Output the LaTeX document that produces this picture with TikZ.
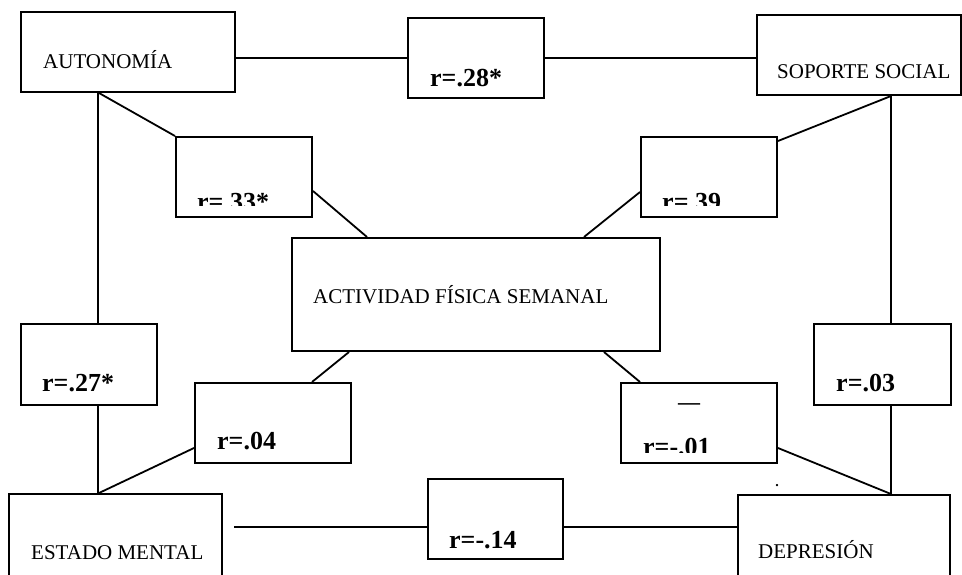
\documentclass[tikz,border=0pt]{standalone}
\usepackage{fontspec}
\setmainfont{Liberation Serif}
\begin{document}
\begin{tikzpicture}[x=1pt,y=-1pt,
  box/.style={draw,line width=2pt,rectangle,inner sep=0pt},
  conn/.style={line width=1.8pt},
  lbl/.style={anchor=base west,inner sep=0pt,font=\fontsize{21}{25}\selectfont},
  rlbl/.style={anchor=base west,inner sep=0pt,font=\fontsize{26}{30}\selectfont\bfseries}]
\useasboundingbox (0,0) rectangle (962,574);
\clip (0,0) rectangle (962,574);
% boxes
\node[box,minimum width=214,minimum height=80] (aut) at (128,52) {};
\node[box,minimum width=136,minimum height=80] (r28) at (476,58) {};
\node[box,minimum width=204,minimum height=80] (sop) at (859,55) {};
\node[box,minimum width=136,minimum height=80] (r33) at (244,177) {};
\node[box,minimum width=136,minimum height=80] (r39) at (709,177) {};
\node[box,minimum width=368,minimum height=113] (act) at (476,294.5) {};
\node[box,minimum width=136,minimum height=81] (r27) at (89,364.5) {};
\node[box,minimum width=137,minimum height=81] (r03) at (882.5,364.5) {};
\node[box,minimum width=156,minimum height=80] (r04) at (273,423) {};
\node[box,minimum width=156,minimum height=80] (r01) at (699,423) {};
\node[box,minimum width=213,minimum height=106] (est) at (115.5,547) {};
\node[box,minimum width=135,minimum height=80] (r14) at (495.5,519) {};
\node[box,minimum width=212,minimum height=106] (dep) at (844,548) {};
% texts
\node[lbl] (tAut) at (43,68) {AUTONOMÍA};
\node[lbl] (tSop) at (777,78) {SOPORTE SOCIAL};
\node[lbl] (tAct) at (313,303) {ACTIVIDAD FÍSICA SEMANAL};
\node[lbl] (tEst) at (31,559) {ESTADO MENTAL};
\node[lbl] (tDep) at (758,558) {DEPRESIÓN};
\node[rlbl] (t28) at (430,86) {r=.28*};
\node[rlbl] (t27) at (42,391) {r=.27*};
\node[rlbl] (t03) at (836,391) {r=.03};
\node[rlbl] (t04) at (217,449) {r=.04};
\node[rlbl] (t14) at (449,548) {r=-.14};
\begin{scope}
  \clip (176,137) rectangle (312,205);
  \node[rlbl] (t33) at (197,210) {r=.33*};
\end{scope}
\begin{scope}
  \clip (641,137) rectangle (777,205);
  \node[rlbl] (t39) at (662,210) {r=.39};
\end{scope}
\begin{scope}
  \clip (621,383) rectangle (777,452);
  \node[rlbl] (t01) at (643,455) {r=-.01};
\end{scope}
\node[anchor=base,inner sep=0pt,font=\fontsize{22}{26}\selectfont\bfseries] (tDash) at (689,409) {—};
\node[anchor=base,inner sep=0pt,font=\fontsize{14}{16}\selectfont\bfseries] (tDot) at (777,486) {.};
% connectors
\coordinate (estR) at (234,527);
\draw[conn] (r28.west) -- (r28.west -| aut.east);
\draw[conn] (r28.east) -- (r28.east -| sop.west);
\draw[conn] ([xshift=78]aut.south west) -- ([xshift=78]aut.south west |- r27.north);
\draw[conn] ([xshift=78]r27.south west) -- ([xshift=78]r27.south west |- est.north);
\draw[conn] ([xshift=79]aut.south west) -- (r33.north west);
\draw[conn] ([yshift=-14]r33.east) -- ([xshift=76]act.north west);
\draw[conn] ([yshift=-15]r39.west) -- ([xshift=-77]act.north east);
\draw[conn] ([yshift=-5]r39.north east) -- ([xshift=135]sop.south west);
\draw[conn] ([xshift=135]sop.south west) -- ([xshift=135]sop.south west |- r03.north);
\draw[conn] ([xshift=78]r03.south west) -- ([xshift=78]r03.south west |- dep.north);
\draw[conn] ([xshift=58]act.south west) -- ([xshift=118]r04.north west);
\draw[conn] ([yshift=-25]r04.west) -- ([xshift=91]est.north west);
\draw[conn] ([yshift=-8]r14.west) -- (estR);
\draw[conn] ([yshift=-8]r14.east) -- ([yshift=-8]r14.east -| dep.west);
\draw[conn] ([xshift=-57]act.south east) -- ([xshift=20]r01.north west);
\draw[conn] ([yshift=-25]r01.east) -- ([xshift=154]dep.north west);
\end{tikzpicture}
\end{document}
